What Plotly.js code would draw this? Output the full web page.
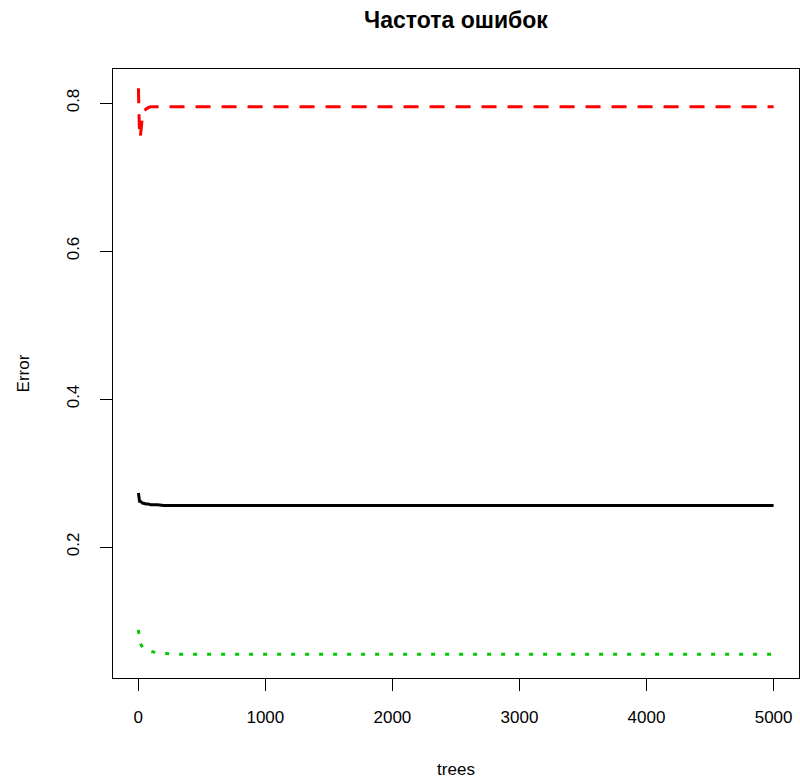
<!DOCTYPE html>
<html>
<head>
<meta charset="utf-8">
<script src="https://cdn.plot.ly/plotly-3.0.1.min.js"></script>
<style>html,body{margin:0;padding:0;background:#fff;}</style>
</head>
<body>
<div id="chart" style="width:800px;height:780px;"></div>
<script>
// Data (random forest error rates vs number of trees)
const trees = [1, 3, 6, 10, 15, 20, 25, 35, 45, 60, 80, 100, 150, 200, 300, 5000];
const oobError = [0.273, 0.270, 0.266, 0.262, 0.262, 0.261, 0.260, 0.259, 0.259, 0.258, 0.258, 0.257, 0.257, 0.256, 0.256, 0.256];
const class1Error = [0.820, 0.805, 0.775, 0.755, 0.753, 0.760, 0.770, 0.785, 0.790, 0.792, 0.794, 0.795, 0.795, 0.795, 0.795, 0.795];
const class2Error = [0.088, 0.082, 0.078, 0.073, 0.070, 0.068, 0.066, 0.064, 0.063, 0.062, 0.060, 0.059, 0.057, 0.056, 0.055, 0.055];
const xTicks = [0, 1000, 2000, 3000, 4000, 5000];
const yTicks = [0.2, 0.4, 0.6, 0.8];
const yTickText = ['0.2', '0.4', '0.6', '0.8'];

const traces = [
  {x: trees, y: oobError, type: 'scatter', mode: 'lines', name: 'OOB',
   line: {color: '#000000', width: 3, dash: 'solid'}},
  {x: trees, y: class1Error, type: 'scatter', mode: 'lines', name: '1',
   line: {color: '#FF0000', width: 3, dash: '15px,11px'}},
  {x: trees, y: class2Error, type: 'scatter', mode: 'lines', name: '2',
   line: {color: '#00CD00', width: 3, dash: '4px,10px'}}
];

const layout = {
  width: 800, height: 780,
  margin: {l: 113, r: 1, t: 69, b: 102},
  paper_bgcolor: '#ffffff', plot_bgcolor: '#ffffff',
  font: {family: 'Liberation Sans, Arial, sans-serif', size: 17, color: '#000'},
  showlegend: false,
  title: {text: '<b>Частота ошибок</b>', font: {size: 23, color: '#000'},
          xref: 'container', yref: 'container', x: 0.57, xanchor: 'center', y: 1 - 20/780, yanchor: 'middle'},
  xaxis: {
    range: [-199, 5200], tickvals: xTicks, ticktext: xTicks.map(String),
    ticks: 'outside', ticklen: 12, tickwidth: 1, tickcolor: '#000',
    ticklabelstandoff: 12,
    showgrid: false, zeroline: false, showline: true, mirror: true,
    linecolor: '#000', linewidth: 1,
    tickfont: {size: 17},
    title: {text: 'trees', font: {size: 17}, standoff: 36}
  },
  yaxis: {
    range: [0.023, 0.846], tickvals: yTicks, ticktext: yTickText, tickangle: -90,
    ticks: 'outside', ticklen: 12, tickwidth: 1, tickcolor: '#000',
    ticklabelstandoff: 14,
    showgrid: false, zeroline: false, showline: true, mirror: true,
    linecolor: '#000', linewidth: 1,
    tickfont: {size: 17},
    title: {text: 'Error', font: {size: 17}, standoff: 30}
  }
};

Plotly.newPlot('chart', traces, layout, {displayModeBar: false, staticPlot: true});
</script>
</body>
</html>
